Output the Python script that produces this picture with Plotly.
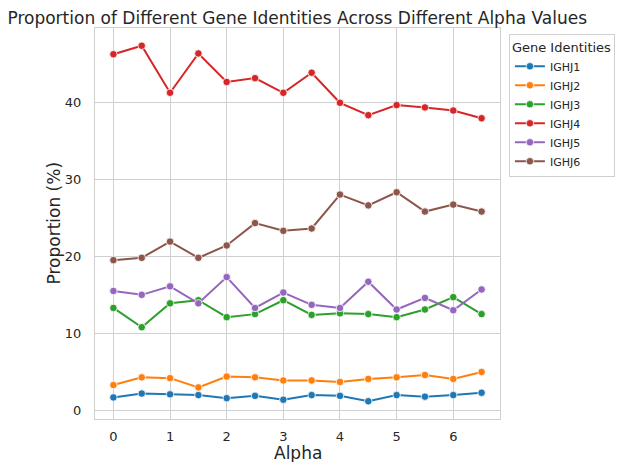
import plotly.graph_objects as go

alpha = [0, 0.5, 1, 1.5, 2, 2.5, 3, 3.5, 4, 4.5, 5, 5.5, 6, 6.5]
series_names = ["IGHJ1", "IGHJ2", "IGHJ3", "IGHJ4", "IGHJ5", "IGHJ6"]
ighj1 = [1.7, 2.2, 2.1, 2.0, 1.6, 1.9, 1.4, 2.0, 1.9, 1.2, 2.0, 1.8, 2.0, 2.3]
ighj2 = [3.3, 4.3, 4.2, 3.0, 4.4, 4.3, 3.9, 3.9, 3.7, 4.1, 4.3, 4.6, 4.1, 5.0]
ighj3 = [13.3, 10.8, 13.9, 14.3, 12.1, 12.5, 14.3, 12.4, 12.6, 12.5, 12.1, 13.1, 14.7, 12.5]
ighj4 = [46.2, 47.3, 41.2, 46.3, 42.6, 43.1, 41.2, 43.8, 39.9, 38.3, 39.6, 39.3, 38.9, 37.9]
ighj5 = [15.5, 15.0, 16.1, 13.9, 17.3, 13.3, 15.3, 13.7, 13.3, 16.7, 13.1, 14.6, 13.0, 15.7]
ighj6 = [19.5, 19.8, 21.9, 19.8, 21.4, 24.3, 23.3, 23.6, 28.0, 26.6, 28.3, 25.8, 26.7, 25.8]
colors = ["#1f77b4", "#ff7f0e", "#2ca02c", "#d62728", "#9467bd", "#8c564b"]
x_ticks = [0, 1, 2, 3, 4, 5, 6]
y_ticks = [0, 10, 20, 30, 40]

values = [ighj1, ighj2, ighj3, ighj4, ighj5, ighj6]

fig = go.Figure()
for name, vals, col in zip(series_names, values, colors):
    fig.add_trace(go.Scatter(
        x=alpha, y=vals, name=name, mode="lines+markers",
        line=dict(color=col, width=2),
        marker=dict(color=col, size=7.5, line=dict(color="white", width=0.8)),
    ))

txt = "#262626"
fig.update_layout(
    width=618, height=462,
    margin=dict(l=95, r=118, t=28, b=43, autoexpand=False),
    paper_bgcolor="white", plot_bgcolor="white",
    font=dict(family="DejaVu Sans", color=txt, size=13),
    title=dict(text="Proportion of Different Gene Identities Across Different Alpha Values",
               x=0.481, xanchor="center", y=1 - 18 / 462, yanchor="middle",
               font=dict(size=17, color=txt)),
    legend=dict(
        title=dict(text="Gene Identities", font=dict(size=13, color=txt)),
        font=dict(size=11, color=txt),
        x=1.022, xanchor="left", y=0.985, yanchor="top",
        bordercolor="#d0d0d0", borderwidth=1, bgcolor="white",
    ),
    showlegend=True,
    annotations=[
        dict(text="Alpha", xref="paper", yref="paper", x=0.5, y=(419 - 453) / 391,
             xanchor="center", yanchor="middle", showarrow=False,
             font=dict(size=17, color=txt)),
        dict(text="Proportion (%)", xref="paper", yref="paper", x=(53 - 95) / 405, y=0.5,
             xanchor="center", yanchor="middle", textangle=-90, showarrow=False,
             font=dict(size=17, color=txt)),
    ],
)
fig.update_xaxes(
    range=[-0.325, 6.825], tickvals=x_ticks, showgrid=True, gridcolor="#d0d0d0", gridwidth=1,
    showline=True, linecolor="#d0d0d0", linewidth=1.25, mirror=True, zeroline=False,
    ticks="", ticklabelstandoff=5, tickfont=dict(size=13, color=txt), automargin=False,
)
fig.update_yaxes(
    range=[-1.1, 49.6], tickvals=y_ticks, showgrid=True, gridcolor="#d0d0d0", gridwidth=1,
    showline=True, linecolor="#d0d0d0", linewidth=1.25, mirror=True, zeroline=False,
    ticks="", ticklabelstandoff=10, tickfont=dict(size=13, color=txt), automargin=False,
)

fig.write_html("out.html", config={"displayModeBar": False},
               post_script="document.body.style.margin='0';")
